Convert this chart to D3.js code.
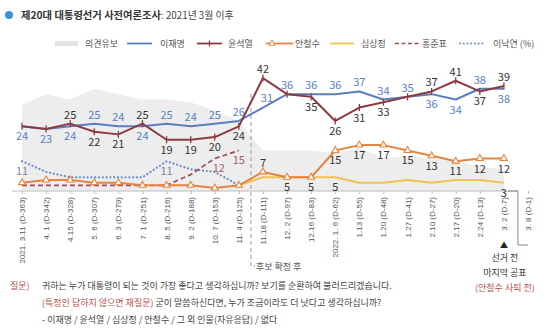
<!DOCTYPE html>
<html><head><meta charset="utf-8">
<script src="https://cdn.jsdelivr.net/npm/d3@7"></script>
<style>
html,body{margin:0;padding:0;background:#fff;}
svg{display:block;font-family:"Noto Sans CJK KR","Noto Sans",sans-serif;}
</style></head><body>
<svg id="chart" width="550" height="333"></svg>
<script>
// ---------- data ----------
const categories = ["2021. 3.11 (D-363)","4. 1 (D-342)","4.15 (D-328)","5. 6 (D-307)","6. 3 (D-279)","7. 1 (D-251)","8. 5 (D-216)","9. 2 (D-188)","10. 7 (D-153)","11. 4 (D-125)","11.18 (D-111)","12. 2 (D-97)","12.16 (D-83)","2022. 1. 6 (D-62)","1.13 (D-55)","1.20 (D-48)","1.27 (D-41)","2.10 (D-27)","2.17 (D-20)","2.24 (D-13)","3. 2 (D-7)","3. 8 (D-1)"];
const undecided    = [32,36,34,38,36,34,34,33,30,26,15,15,15,14,16,12,13,12,11,9,8,null];
const leeJaemyung  = [24,23,24,25,24,24,25,24,25,26,31,36,36,36,37,34,35,36,34,38,38,null];
const yoonSeokyeol = [24,23,25,22,21,25,19,19,20,24,42,36,35,26,31,33,35,37,41,37,39,null];
const ahnCheolsoo  = [3,4,4,3,3,2,2,2,1,2,7,5,5,15,17,17,15,13,11,12,12,null];
const simSangjeung = [null,null,null,null,null,null,null,null,null,2,5,5,5,5,3,3,4,3,4,4,3,null];
const hongJunpyo   = [2,2,2,2,2,2,2,6,12,15,null,null,null,null,null,null,null,null,null,null,null,null];
const leeNakyon    = [11,7,5,5,5,5,11,8,7,2,null,null,null,null,null,null,null,null,null,null,null,null];
const legendNames  = ["의견유보","이재명","윤석열","안철수","심상정","홍준표","이낙연 (%)"];

// label placement (a=above, b=below, A=above-right, R=below-right, -=none)
const leeSide  = "bbbaabaaaaAaaaaaabbab-";
const yoonSide = "--abbabbbba-bbbb-aaba-";
const ahnSide  = "----------abbbbbbbbbb-";
const simSide  = "-------------b------b-";
const hongSide = "--------Rb------------";
const nakSide  = "b-----b---------------";

// ---------- setup ----------
const svg = d3.select("#chart");
const x = d3.scalePoint().domain(categories).range([22, 528]);
const y = d3.scaleLinear().domain([0, 45]).range([190.7, 70]);
const X = (d,i) => x(categories[i]);

const C = {
  und:"#ededed", lee:"#5b7ec2", yoon:"#8c3b40", ahn:"#e6843e",
  sim:"#f2c24e", hong:"#a04a56", nak:"#6a8cca"
};

// title
svg.append("circle").attr("cx",9).attr("cy",15).attr("r",4).attr("fill","#3b8fdc");
const title = svg.append("text").attr("x",21).attr("y",19).attr("font-size",10.3).attr("fill","#333");
title.append("tspan").attr("font-weight","bold").text("제20대 대통령선거 사전여론조사");
title.append("tspan").attr("font-size",9.8).attr("fill","#444").text(": 2021년 3월 이후");

// legend
const lg = svg.append("g").attr("font-size",9).attr("fill","#555");
const lgSw = [55,127,197,266,330,395,460];
const lgLen = [23,25,25,27,24,24,24];
const lgTx = [85,160,228,295,361,422,493];
const ly = 43.5;
lg.append("rect").attr("x",lgSw[0]).attr("y",ly-2.5).attr("width",lgLen[0]).attr("height",5).attr("fill","#e2e2e2");
const lgStyles = [null,
  {c:C.lee,w:1.8},{c:C.yoon,w:1.8},{c:C.ahn,w:1.8},{c:C.sim,w:1.8},
  {c:C.hong,w:1.6,da:"4,2.5"},{c:C.nak,w:2,da:"0.1,3.6",cap:"round"}];
for (let k=1;k<7;k++){
  const s=lgStyles[k];
  lg.append("line").attr("x1",lgSw[k]).attr("x2",lgSw[k]+lgLen[k]).attr("y1",ly).attr("y2",ly)
    .attr("stroke",s.c).attr("stroke-width",s.w).attr("stroke-dasharray",s.da||null)
    .attr("stroke-linecap",s.cap||"butt");
}
lg.append("line").attr("x1",lgSw[2]+12.5).attr("x2",lgSw[2]+12.5).attr("y1",ly-3).attr("y2",ly+3)
  .attr("stroke",C.yoon).attr("stroke-width",1.2);
lg.append("path").attr("d",d3.symbol(d3.symbolTriangle,16)()).attr("transform",`translate(${lgSw[3]+6},${ly})`)
  .attr("fill","#fff").attr("stroke",C.ahn).attr("stroke-width",1);
legendNames.forEach((n,k)=>lg.append("text").attr("x",lgTx[k]).attr("y",ly+3.3).text(n));

// area
const area = d3.area().defined(d=>d!=null).x(X).y0(y(0)).y1(d=>y(d)).curve(d3.curveLinear);
svg.append("path").datum(undecided).attr("d",area).attr("fill",C.und);

// axis
const ax = svg.append("g").attr("transform",`translate(0,${y(0)+0.3})`)
  .call(d3.axisBottom(x).tickSize(3).tickSizeOuter(0));
ax.select(".domain").remove();
ax.selectAll(".tick line").attr("stroke","#bbb");
ax.selectAll(".tick text").attr("transform","rotate(-90)").attr("x",-6).attr("y",0).attr("dy","0.32em")
  .style("text-anchor","end").attr("font-size",8).attr("fill","#555").attr("font-family",null);
svg.append("line").attr("x1",12).attr("x2",518).attr("y1",y(0)+0.3).attr("y2",y(0)+0.3).attr("stroke","#bbb");

// candidate-confirmed divider
const xd = (x(categories[9])+x(categories[10]))/2;
svg.append("path").attr("d",`M${xd},94V266H${xd+4}`).attr("fill","none").attr("stroke","#999")
  .attr("stroke-width",1).attr("stroke-dasharray","4,3");
svg.append("text").attr("x",xd+5).attr("y",270).attr("font-size",9).attr("fill","#555").text("후보 확정 후");

// last-publication bracket
const xb = (x(categories[20])+x(categories[21]))/2 + 2;
svg.append("path").attr("d",`M${xb-10},${y(0)+0.3}H${xb}V245H${xb+10}`).attr("fill","none").attr("stroke","#888").attr("stroke-width",1);
const xl = x(categories[20]);
svg.append("text").attr("x",xl).attr("y",248).attr("font-size",8).attr("text-anchor","middle").attr("fill","#222").text("▲");
const note = svg.append("g").attr("font-size",9).attr("text-anchor","middle");
note.append("text").attr("x",xl+1).attr("y",261).attr("fill","#333").text("선거 전");
note.append("text").attr("x",xl+1).attr("y",276).attr("fill","#333").text("마지막 공표");
note.append("text").attr("x",xl+1).attr("y",291).attr("fill","#c0504d").text("(안철수 사퇴 전)");

// lines
const line = d3.line().defined(d=>d!=null).x(X).y(d=>y(d));
function drawLine(data,color,w,da,cap){
  svg.append("path").datum(data).attr("d",line).attr("fill","none").attr("stroke",color)
    .attr("stroke-width",w).attr("stroke-dasharray",da||null).attr("stroke-linecap",cap||"butt")
    .attr("stroke-linejoin","round");
}
drawLine(leeNakyon,C.nak,2.2,"0.1,3.7","round");
drawLine(hongJunpyo,C.hong,1.7,"5,3");
drawLine(simSangjeung,C.sim,2);
drawLine(ahnCheolsoo,C.ahn,2);
drawLine(leeJaemyung,C.lee,2);
drawLine(yoonSeokyeol,C.yoon,2);

// markers
svg.append("g").selectAll("line").data(yoonSeokyeol.map((v,i)=>[v,i]).filter(d=>d[0]!=null)).join("line")
  .attr("x1",d=>X(0,d[1])).attr("x2",d=>X(0,d[1])).attr("y1",d=>y(d[0])-3.5).attr("y2",d=>y(d[0])+3.5)
  .attr("stroke",C.yoon).attr("stroke-width",1.3);
svg.append("g").selectAll("path").data(ahnCheolsoo.map((v,i)=>[v,i]).filter(d=>d[0]!=null)).join("path")
  .attr("d",d3.symbol(d3.symbolTriangle,20)())
  .attr("transform",d=>`translate(${X(0,d[1])},${y(d[0])})`)
  .attr("fill","#fff").attr("stroke",C.ahn).attr("stroke-width",1.1);

// labels
function labels(data,side,color){
  const g = svg.append("g").attr("font-size",11).attr("fill",color).attr("text-anchor","middle");
  data.forEach((v,i)=>{
    const s=side[i]; if(v==null||!s||s==="-") return;
    let dx=0,dy=0;
    if(s==="a") dy=-5; else if(s==="b") dy=14; else if(s==="A"){dx=4;dy=-6;} else if(s==="R"){dx=4;dy=13;}
    g.append("text").attr("x",X(v,i)+dx).attr("y",y(v)+dy).text(v);
  });
}
labels(leeJaemyung,leeSide,"#5b7ec2");
labels(yoonSeokyeol,yoonSide,"#333");
labels(ahnCheolsoo,ahnSide,"#333");
labels(simSangjeung,simSide,"#333");
labels(hongJunpyo,hongSide,"#a8606b");
labels(leeNakyon,nakSide,"#7f8794");

// question text
const q = svg.append("g").attr("font-size",9);
q.append("text").attr("x",10).attr("y",289).attr("fill","#b5514a").text("질문)");
q.append("text").attr("x",42).attr("y",289).attr("fill","#444")
  .text("귀하는 누가 대통령이 되는 것이 가장 좋다고 생각하십니까? 보기를 순환하여 불러드리겠습니다.");
const r2 = q.append("text").attr("x",42).attr("y",306).attr("fill","#444");
r2.append("tspan").attr("fill","#c0504d").text("(특정인 답하지 않으면 재질문)");
r2.append("tspan").text(" 굳이 말씀하신다면, 누가 조금이라도 더 낫다고 생각하십니까?");
q.append("text").attr("x",42).attr("y",323).attr("fill","#444")
  .text("- 이재명 / 윤석열 / 심상정 / 안철수 / 그 외 인물(자유응답) / 없다");
</script>
</body></html>
